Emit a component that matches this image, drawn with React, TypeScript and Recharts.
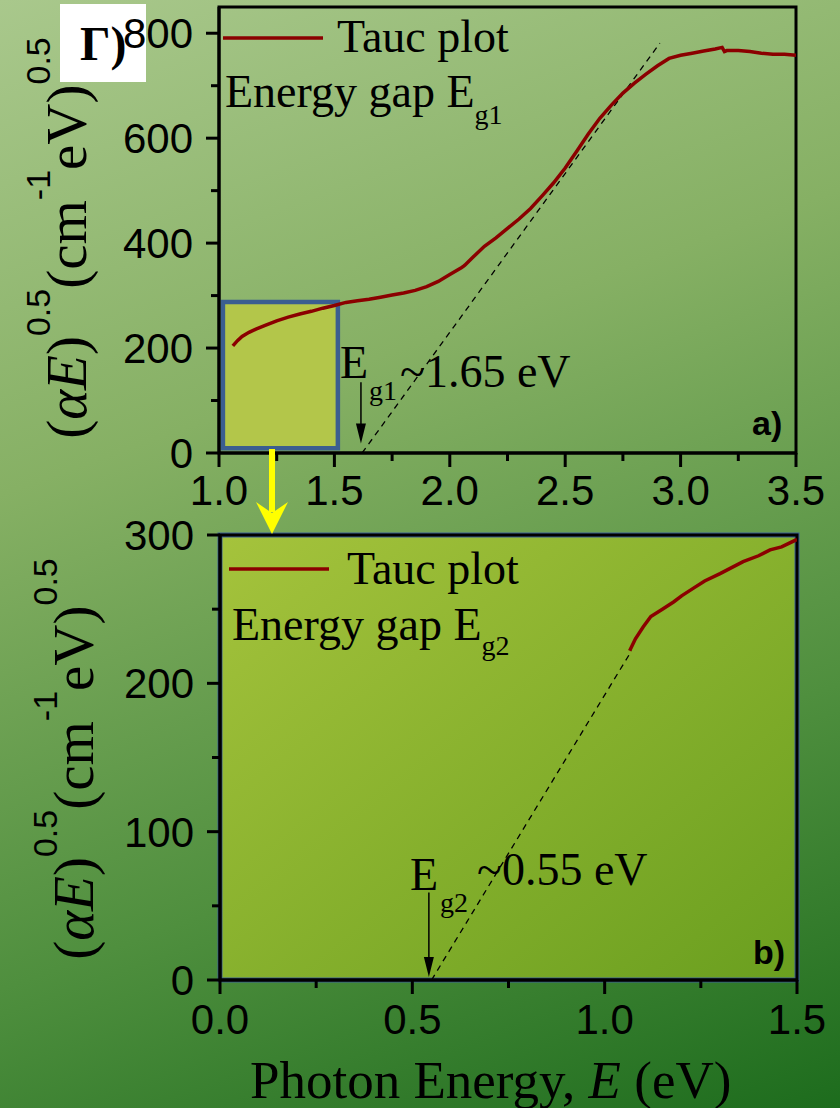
import { LineChart, Line, XAxis, YAxis, ReferenceArea, ReferenceLine } from 'recharts'

// panel a) – Tauc plot, full range
const topEnergy = [
  1.06, 1.08, 1.1, 1.13, 1.16, 1.2, 1.25, 1.3, 1.35, 1.4, 1.45, 1.5, 1.55, 1.6, 1.65, 1.7, 1.75, 1.8,
  1.85, 1.9, 1.95, 2.0, 2.05, 2.06, 2.065, 2.1, 2.15, 2.2, 2.25, 2.3, 2.35, 2.4, 2.45, 2.5, 2.55, 2.6,
  2.65, 2.7, 2.75, 2.8, 2.85, 2.9, 2.95, 3.0, 3.05, 3.1, 3.15, 3.18, 3.19, 3.2, 3.25, 3.3, 3.35, 3.4,
  3.45, 3.5,
]
const topTauc = [
  204, 214, 222, 230, 236, 243, 252, 259, 265, 270, 276, 281, 287, 290, 293, 297, 301, 305,
  310, 317, 327, 340, 353, 356, 358, 373, 394, 410, 428, 446, 466, 490, 515, 543, 575, 608,
  638, 663, 686, 705, 722, 738, 752, 758, 762, 766, 770, 773, 765, 767, 767, 765, 762, 760,
  760, 758,
]
const topFitEnergy = [1.62, 2.91]
const topFitTauc = [0, 781]

// panel b) – zoom on the low energy part
const botEnergy = [1.065, 1.08, 1.1, 1.12, 1.15, 1.18, 1.2, 1.23, 1.26, 1.3, 1.33, 1.36, 1.4, 1.43, 1.46, 1.5]
const botTauc = [222, 230, 238, 245, 250, 255, 259, 264, 269, 274, 278, 282, 286, 290, 292, 297]
const botFitEnergy = [0.55, 1.07]
const botFitTauc = [0, 222]

// zoomed region marked in panel a)
const zoomBoxX = [1.017, 1.515]
const zoomBoxY = [9, 288]

const topXTicks = [1, 1.25, 1.5, 1.75, 2, 2.25, 2.5, 2.75, 3, 3.25, 3.5]
const topXMajor = [1, 1.5, 2, 2.5, 3, 3.5]
const topYTicks = [0, 100, 200, 300, 400, 500, 600, 700, 800]
const topYMajor = [0, 200, 400, 600, 800]
const botXTicks = [0, 0.25, 0.5, 0.75, 1, 1.25, 1.5]
const botXMajor = [0, 0.5, 1, 1.5]
const botYTicks = [0, 50, 100, 150, 200, 250, 300]
const botYMajor = [0, 100, 200, 300]

const toRows = (xs: number[], ys: number[]) => xs.map((x, i) => ({ x, y: ys[i] }))

const SANS = 'Liberation Sans, Arial, sans-serif'
const SERIF = 'Liberation Serif, Times New Roman, serif'
const CURVE = '#8b0000'

const isMajor = (majors: number[], v: number) => majors.some((m) => Math.abs(m - v) < 1e-6)

function xTick(majors: number[], labelDy: number) {
  return (props: any) => {
    const { x, y, payload } = props
    const major = isMajor(majors, payload.value)
    return (
      <g>
        <line x1={x} x2={x} y1={y} y2={y + (major ? 14 : 8)} stroke="#000" strokeWidth={3} />
        {major && (
          <text x={x} y={y + labelDy} textAnchor="middle" fontFamily={SANS} fontSize={42} fill="#000">
            {payload.value.toFixed(1)}
          </text>
        )}
      </g>
    )
  }
}

function yTick(majors: number[]) {
  return (props: any) => {
    const { x, y, payload } = props
    const major = isMajor(majors, payload.value)
    return (
      <g>
        <line x1={x - (major ? 13 : 8)} x2={x} y1={y} y2={y} stroke="#000" strokeWidth={3} />
        {major && (
          <text x={x - 26} y={y + 15} textAnchor="end" fontFamily={SANS} fontSize={42} fill="#000">
            {payload.value}
          </text>
        )}
      </g>
    )
  }
}

const downArrow = (p: any) => {
  const { x1, y1, x2, y2 } = p
  return (
    <g>
      <line x1={x1} y1={y1} x2={x2} y2={y2 - 14} stroke="#000" strokeWidth={1.5} />
      <polygon points={`${x2 - 5},${y2 - 20} ${x2 + 5},${y2 - 20} ${x2},${y2}`} fill="#000" />
    </g>
  )
}

function YTitle({ x, cy }: { x: number; cy: number }) {
  return (
    <text transform={`translate(${x},${cy}) rotate(-90)`} textAnchor="middle" fontFamily={SERIF} fontSize={57} fill="#000">
      <tspan>(</tspan>
      <tspan fontStyle="italic">αE</tspan>
      <tspan>)</tspan>
      <tspan fontFamily={SANS} fontSize={34} dy={-36}>0.5</tspan>
      <tspan dy={36}>(cm</tspan>
      <tspan fontFamily={SANS} fontSize={34} dy={-36}>-1</tspan>
      <tspan dy={36}>eV)</tspan>
      <tspan fontFamily={SANS} fontSize={34} dy={-36}>0.5</tspan>
    </text>
  )
}

const abs: React.CSSProperties = { position: 'absolute', left: 0, top: 0 }

export default function App() {
  const topRows = toRows(topEnergy, topTauc)
  const topFit = toRows(topFitEnergy, topFitTauc)
  const botRows = toRows(botEnergy, botTauc)
  const botFit = toRows(botFitEnergy, botFitTauc)

  return (
    <div
      style={{
        ...abs,
        width: 840,
        height: 1108,
        overflow: 'hidden',
        background: 'linear-gradient(160deg, #a9c88c 0%, #86b064 35%, #4f8f3e 70%, #1d6c1d 100%)',
      }}
    >
      <svg width={840} height={1108} style={abs}>
        <defs>
          <linearGradient id="plotFillB" x1="0" y1="0" x2="1" y2="1">
            <stop offset="0%" stopColor="#a5c33c" />
            <stop offset="100%" stopColor="#6a9f1f" />
          </linearGradient>
        </defs>
        <rect x={60} y={4} width={86} height={78} fill="#fff" />
        <text x={80} y={60} fontFamily={SERIF} fontWeight="bold" fontSize={48} fill="#000">Г)</text>
      </svg>

      <div style={abs}>
        <LineChart width={840} height={1108} margin={{ top: 7, right: 44, bottom: 625, left: 159 }}>
          <XAxis
            type="number"
            dataKey="x"
            domain={[1, 3.5]}
            ticks={topXTicks}
            interval={0}
            allowDataOverflow
            height={30}
            tickSize={0}
            tickMargin={0}
            tickLine={false}
            axisLine={{ stroke: '#000', strokeWidth: 3 }}
            tick={xTick(topXMajor, 52)}
          />
          <YAxis
            type="number"
            dataKey="y"
            domain={[0, 850]}
            ticks={topYTicks}
            interval={0}
            allowDataOverflow
            width={60}
            tickSize={0}
            tickMargin={0}
            tickLine={false}
            axisLine={{ stroke: '#000', strokeWidth: 3 }}
            tick={yTick(topYMajor)}
          />
          <ReferenceArea x1={1} x2={3.5} y1={0} y2={850} fill="none" stroke="#000" strokeWidth={3} ifOverflow="visible" />
          <ReferenceArea
            x1={zoomBoxX[0]}
            x2={zoomBoxX[1]}
            y1={zoomBoxY[0]}
            y2={zoomBoxY[1]}
            fill="#b3c64a"
            fillOpacity={1}
            stroke="#3b5e90"
            strokeWidth={4.5}
            ifOverflow="visible"
          />
          <Line data={topFit} dataKey="y" type="linear" stroke="#000" strokeWidth={1.3} strokeDasharray="6 5" dot={false} isAnimationActive={false} />
          <Line data={topRows} dataKey="y" type="linear" stroke={CURVE} strokeWidth={3.5} dot={false} isAnimationActive={false} />
          <ReferenceLine segment={[{ x: 1.615, y: 135 }, { x: 1.615, y: 18 }]} shape={downArrow} ifOverflow="visible" />
        </LineChart>
      </div>

      <div style={abs}>
        <LineChart width={840} height={1108} margin={{ top: 535, right: 43, bottom: 98, left: 160 }}>
          <XAxis
            type="number"
            dataKey="x"
            domain={[0, 1.5]}
            ticks={botXTicks}
            interval={0}
            allowDataOverflow
            height={30}
            tickSize={0}
            tickMargin={0}
            tickLine={false}
            axisLine={{ stroke: '#000', strokeWidth: 3 }}
            tick={xTick(botXMajor, 54)}
          />
          <YAxis
            type="number"
            dataKey="y"
            domain={[0, 300]}
            ticks={botYTicks}
            interval={0}
            allowDataOverflow
            width={60}
            tickSize={0}
            tickMargin={0}
            tickLine={false}
            axisLine={{ stroke: '#000', strokeWidth: 3 }}
            tick={yTick(botYMajor)}
          />
          <ReferenceArea x1={0} x2={1.5} y1={0} y2={300} fill="url(#plotFillB)" fillOpacity={1} stroke="#3b5f92" strokeWidth={5} ifOverflow="visible" />
          <ReferenceArea x1={0} x2={1.5} y1={0} y2={300} fill="none" stroke="#000" strokeWidth={3} ifOverflow="visible" />
          <Line data={botFit} dataKey="y" type="linear" stroke="#000" strokeWidth={1.3} strokeDasharray="6 5" dot={false} isAnimationActive={false} />
          <Line data={botRows} dataKey="y" type="linear" stroke={CURVE} strokeWidth={3.5} dot={false} isAnimationActive={false} />
          <ReferenceLine segment={[{ x: 0.543, y: 59 }, { x: 0.543, y: 2 }]} shape={downArrow} ifOverflow="visible" />
        </LineChart>
      </div>

      <svg width={840} height={1108} style={{ ...abs, pointerEvents: 'none' }}>
        {/* legends */}
        <line x1={223} x2={323} y1={38} y2={38} stroke={CURVE} strokeWidth={3.5} />
        <text x={337} y={52} fontFamily={SERIF} fontSize={46} fill="#000">Tauc plot</text>
        <text x={225} y={107} fontFamily={SERIF} fontSize={46} fill="#000">
          Energy gap E<tspan fontSize={28} dy={17}>g1</tspan>
        </text>
        <line x1={229} x2={329} y1={569} y2={569} stroke={CURVE} strokeWidth={3.5} />
        <text x={347} y={584} fontFamily={SERIF} fontSize={46} fill="#000">Tauc plot</text>
        <text x={232} y={640} fontFamily={SERIF} fontSize={46} fill="#000">
          Energy gap E<tspan fontSize={28} dy={15}>g2</tspan>
        </text>

        {/* gap annotations */}
        <text x={340} y={378} fontFamily={SERIF} fontSize={46} fill="#000">E</text>
        <text x={369} y={400} fontFamily={SERIF} fontSize={28} fill="#000">g1</text>
        <text x={400} y={387} fontFamily={SERIF} fontSize={46} fill="#000">~1.65 eV</text>
        <text x={410} y={890} fontFamily={SERIF} fontSize={46} fill="#000">E</text>
        <text x={440} y={912} fontFamily={SERIF} fontSize={28} fill="#000">g2</text>
        <text x={477} y={885} fontFamily={SERIF} fontSize={46} fill="#000">~0.55 eV</text>

        {/* panel letters */}
        <text x={752} y={435} fontFamily={SANS} fontWeight="bold" fontSize={34} fill="#000">a)</text>
        <text x={753} y={964} fontFamily={SANS} fontWeight="bold" fontSize={34} fill="#000">b)</text>

        {/* yellow zoom arrow */}
        <line x1={272} x2={272} y1={449} y2={512} stroke="#ffff00" strokeWidth={6} />
        <polygon points="272,534 256,502 272,513 288,502" fill="#ffff00" />

        {/* axis titles */}
        <YTitle x={86} cy={238} />
        <YTitle x={93} cy={759} />
        <text x={250} y={1098} fontFamily={SERIF} fontSize={53} fill="#000">
          Photon Energy, <tspan fontStyle="italic">E</tspan> (eV)
        </text>
      </svg>
    </div>
  )
}
